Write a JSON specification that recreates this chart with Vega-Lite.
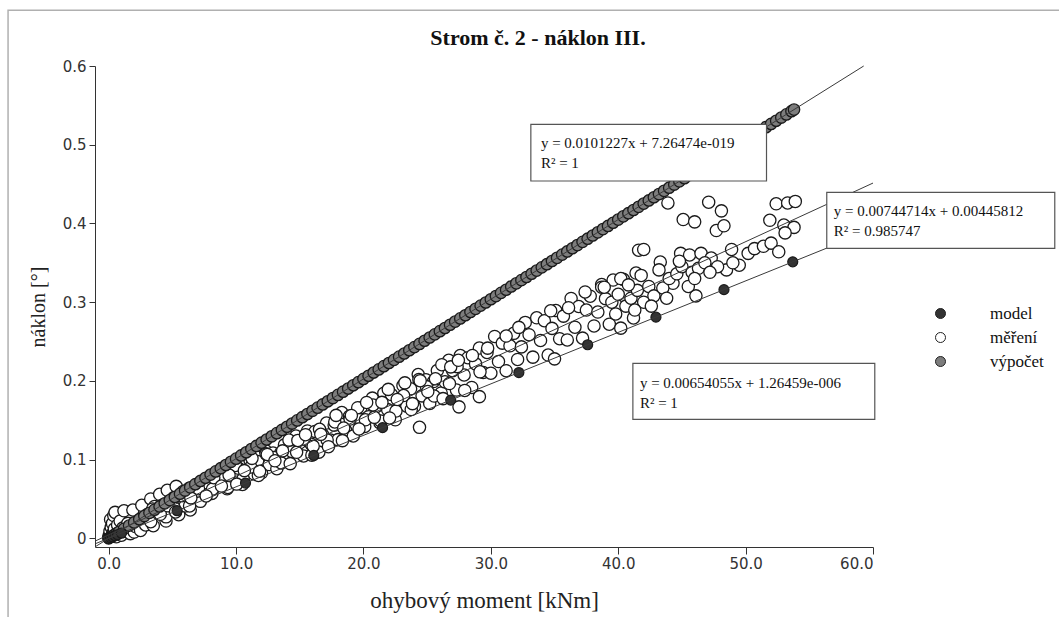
{
  "$schema": "https://vega.github.io/schema/vega-lite/v6.json",
  "width": 778,
  "height": 481,
  "autosize": {"type": "none"},
  "padding": {"left": 95, "top": 66, "right": 186, "bottom": 70},
  "background": "white",
  "title": {"text": "Strom č. 2 - náklon III.", "font": "Liberation Serif", "fontSize": 22, "fontWeight": "bold", "color": "#111", "anchor": "middle", "dx": 54, "offset": 0, "dy": 57, "baseline": "alphabetic"},
  "config": {
    "view": {"stroke": null},
    "style": {"guide-label": {"font": "Liberation Serif"}, "guide-title": {"font": "Liberation Serif"}},
    "axis": {"grid": false, "domainColor": "#333", "domainWidth": 1, "tickColor": "#333", "tickWidth": 1, "labelFont": "DejaVu Sans", "labelFontSize": 15, "labelColor": "#333", "titleFont": "Liberation Serif", "titleFontWeight": "normal", "titleColor": "#222"},
    "legend": {"labelFont": "Liberation Serif", "labelFontSize": 17, "labelColor": "#111"}
  },
  "datasets": {
    "frame": [{"x": -7.9, "x2": 76.5, "y": 0.6707, "y2": -0.15}],
    "vyp": [
      {"x":0,"y":0},{"x":0.2,"y":0.002},{"x":0.4,"y":0.004},{"x":0.6,"y":0.0061},{"x":0.8,"y":0.0081},{"x":1.2,"y":0.0121},{"x":1.6,"y":0.0162},{"x":2.0,"y":0.0202},{"x":2.4,"y":0.0243},{"x":2.8,"y":0.0283},{"x":3.2,"y":0.0324},{"x":3.6,"y":0.0364},{"x":4.0,"y":0.0405},{"x":4.4,"y":0.0445},{"x":4.8,"y":0.0486},{"x":5.2,"y":0.0526},{"x":5.6,"y":0.0567},{"x":6.0,"y":0.0607},{"x":6.4,"y":0.0648},{"x":6.8,"y":0.0688},{"x":7.2,"y":0.0729},{"x":7.6,"y":0.0769},{"x":8.0,"y":0.081},{"x":8.4,"y":0.085},{"x":8.8,"y":0.0891},{"x":9.2,"y":0.0931},{"x":9.6,"y":0.0972},{"x":10.0,"y":0.1012},{"x":10.4,"y":0.1053},{"x":10.8,"y":0.1093},{"x":11.2,"y":0.1134},{"x":11.6,"y":0.1174},{"x":12.0,"y":0.1215},{"x":12.4,"y":0.1255},{"x":12.8,"y":0.1296},{"x":13.2,"y":0.1336},{"x":13.6,"y":0.1377},{"x":14.0,"y":0.1417},{"x":14.4,"y":0.1458},{"x":14.8,"y":0.1498},{"x":15.2,"y":0.1539},{"x":15.6,"y":0.1579},{"x":16.0,"y":0.162},{"x":16.4,"y":0.166},{"x":16.8,"y":0.1701},{"x":17.2,"y":0.1741},{"x":17.6,"y":0.1782},{"x":18.0,"y":0.1822},{"x":18.4,"y":0.1863},{"x":18.8,"y":0.1903},{"x":19.2,"y":0.1944},{"x":19.6,"y":0.1984},{"x":20.0,"y":0.2025},{"x":20.4,"y":0.2065},{"x":20.8,"y":0.2106},{"x":21.2,"y":0.2146},{"x":21.6,"y":0.2187},{"x":22.0,"y":0.2227},{"x":22.4,"y":0.2267},{"x":22.8,"y":0.2308},{"x":23.2,"y":0.2348},{"x":23.6,"y":0.2389},{"x":24.0,"y":0.2429},{"x":24.4,"y":0.247},{"x":24.8,"y":0.251},{"x":25.2,"y":0.2551},{"x":25.6,"y":0.2591},{"x":26.0,"y":0.2632},{"x":26.4,"y":0.2672},{"x":26.8,"y":0.2713},{"x":27.2,"y":0.2753},{"x":27.6,"y":0.2794},{"x":28.0,"y":0.2834},{"x":28.4,"y":0.2875},{"x":28.8,"y":0.2915},{"x":29.2,"y":0.2956},{"x":29.6,"y":0.2996},{"x":30.0,"y":0.3037},{"x":30.4,"y":0.3077},{"x":30.8,"y":0.3118},{"x":31.2,"y":0.3158},{"x":31.6,"y":0.3199},{"x":32.0,"y":0.3239},{"x":32.4,"y":0.328},{"x":32.8,"y":0.332},{"x":33.2,"y":0.3361},{"x":33.6,"y":0.3401},{"x":34.0,"y":0.3442},{"x":34.4,"y":0.3482},{"x":34.8,"y":0.3523},{"x":35.2,"y":0.3563},{"x":35.6,"y":0.3604},{"x":36.0,"y":0.3644},{"x":36.4,"y":0.3685},{"x":36.8,"y":0.3725},{"x":37.2,"y":0.3766},{"x":37.6,"y":0.3806},{"x":38.0,"y":0.3847},{"x":38.4,"y":0.3887},{"x":38.8,"y":0.3928},{"x":39.2,"y":0.3968},{"x":39.6,"y":0.4009},{"x":40.0,"y":0.4049},{"x":40.4,"y":0.409},{"x":40.8,"y":0.413},{"x":41.2,"y":0.4171},{"x":41.6,"y":0.4211},{"x":42.0,"y":0.4252},{"x":42.4,"y":0.4292},{"x":42.8,"y":0.4333},{"x":43.2,"y":0.4373},{"x":43.6,"y":0.4414},{"x":44.0,"y":0.4454},{"x":44.4,"y":0.4494},{"x":44.8,"y":0.4535},{"x":45.2,"y":0.4575},{"x":45.6,"y":0.4616},{"x":46.0,"y":0.4656},{"x":46.4,"y":0.4697},{"x":46.8,"y":0.4737},{"x":47.2,"y":0.4778},{"x":47.6,"y":0.4818},{"x":48.0,"y":0.4859},{"x":48.4,"y":0.4899},{"x":48.8,"y":0.494},{"x":49.2,"y":0.498},{"x":49.6,"y":0.5021},{"x":50.0,"y":0.5061},{"x":50.4,"y":0.5102},{"x":50.8,"y":0.5142},{"x":51.2,"y":0.5183},{"x":51.6,"y":0.5223},{"x":52.0,"y":0.5264},{"x":52.4,"y":0.5304},{"x":52.8,"y":0.5345},{"x":53.2,"y":0.5385},{"x":53.6,"y":0.5426},{"x":53.8,"y":0.5446}
    ],
    "model": [
      {"x":0,"y":0},{"x":0.15,"y":0.001},{"x":0.3,"y":0.002},{"x":0.5,"y":0.0033},{"x":0.7,"y":0.0046},{"x":1.0,"y":0.0065},{"x":5.37,"y":0.0351},{"x":10.74,"y":0.0702},{"x":16.1,"y":0.1053},{"x":21.5,"y":0.1406},{"x":26.85,"y":0.1756},{"x":32.2,"y":0.2106},{"x":37.6,"y":0.2459},{"x":42.96,"y":0.281},{"x":48.3,"y":0.3159},{"x":53.7,"y":0.3512}
    ],
    "mer": [
      {"x":0,"y":0.001},{"x":0.05,"y":0.004},{"x":0.1,"y":0.009},{"x":0.15,"y":0.024},{"x":0.2,"y":0.014},{"x":0.25,"y":0.003},{"x":0.3,"y":0.019},{"x":0.35,"y":0.007},{"x":0.4,"y":0.029},{"x":0.45,"y":0.012},{"x":0.5,"y":0.033},{"x":0.6,"y":0.002},{"x":0.7,"y":0.017},{"x":0.8,"y":0.007},{"x":0.9,"y":0.022},{"x":1.0,"y":0.004},{"x":1.1,"y":0.013},{"x":1.2,"y":0.035},{"x":1.3,"y":0.009},{"x":1.5,"y":0.019},{"x":1.7,"y":0.006},{"x":1.9,"y":0.036},{"x":2.0,"y":0.008},{"x":2.1,"y":0.015},{"x":2.3,"y":0.021},{"x":2.5,"y":0.01},{"x":2.6,"y":0.042},{"x":2.7,"y":0.025},{"x":2.9,"y":0.017},{"x":3.3,"y":0.05},{"x":3.5,"y":0.016},{"x":4.0,"y":0.056},{"x":4.5,"y":0.022},{"x":4.6,"y":0.061},{"x":5.3,"y":0.066},{"x":5.5,"y":0.03},{"x":6.4,"y":0.036},
      {"x":3.0,"y":0.0298},{"x":3.3,"y":0.0211},{"x":3.6,"y":0.0405},{"x":3.9,"y":0.0315},{"x":4.2,"y":0.0421},{"x":4.5,"y":0.0273},{"x":4.8,"y":0.0414},{"x":5.1,"y":0.0514},{"x":5.4,"y":0.0391},{"x":5.7,"y":0.0516},{"x":6.0,"y":0.0411},{"x":6.3,"y":0.0632},{"x":6.6,"y":0.0501},{"x":6.9,"y":0.062},{"x":7.2,"y":0.047},{"x":7.5,"y":0.0629},{"x":7.8,"y":0.0715},{"x":8.1,"y":0.0571},{"x":8.4,"y":0.0658},{"x":8.7,"y":0.0818},{"x":9.0,"y":0.0756},{"x":9.3,"y":0.0629},{"x":9.6,"y":0.0884},{"x":9.9,"y":0.0755},{"x":10.2,"y":0.089},{"x":10.5,"y":0.0684},{"x":10.8,"y":0.0865},{"x":11.1,"y":0.099},{"x":11.4,"y":0.082},{"x":11.7,"y":0.0977},{"x":12.0,"y":0.0833},{"x":12.3,"y":0.1115},{"x":12.6,"y":0.0937},{"x":12.9,"y":0.1085},{"x":13.2,"y":0.0885},{"x":13.5,"y":0.1083},{"x":13.8,"y":0.1187},{"x":14.1,"y":0.0996},{"x":14.4,"y":0.1101},{"x":14.7,"y":0.13},{"x":15.0,"y":0.1214},{"x":15.3,"y":0.1047},{"x":15.6,"y":0.1364},{"x":15.9,"y":0.1195},{"x":16.2,"y":0.1358},{"x":16.5,"y":0.1095},{"x":16.8,"y":0.1315},{"x":17.1,"y":0.1465},{"x":17.4,"y":0.1249},{"x":17.7,"y":0.1438},{"x":18.0,"y":0.1254},{"x":18.3,"y":0.1598},{"x":18.6,"y":0.1373},{"x":18.9,"y":0.155},{"x":19.2,"y":0.13},{"x":19.5,"y":0.1537},{"x":19.8,"y":0.1659},{"x":20.1,"y":0.1421},{"x":20.4,"y":0.1545},{"x":20.7,"y":0.1781},{"x":21.0,"y":0.1672},{"x":21.3,"y":0.1466},{"x":21.6,"y":0.1843},{"x":21.9,"y":0.1635},{"x":22.2,"y":0.1827},{"x":22.5,"y":0.1506},{"x":22.8,"y":0.1766},{"x":23.1,"y":0.1941},{"x":23.4,"y":0.1678},{"x":23.7,"y":0.19},{"x":24.0,"y":0.1676},{"x":24.3,"y":0.2081},{"x":24.6,"y":0.181},{"x":24.9,"y":0.2015},{"x":25.2,"y":0.1714},{"x":25.5,"y":0.1992},{"x":25.8,"y":0.2132},{"x":26.1,"y":0.1847},{"x":26.4,"y":0.1988},{"x":26.7,"y":0.2262},{"x":27.0,"y":0.213},{"x":27.3,"y":0.1884},{"x":27.6,"y":0.2322},{"x":27.9,"y":0.2075},{"x":28.2,"y":0.2295},{"x":28.5,"y":0.1917},{"x":28.8,"y":0.2216},{"x":29.1,"y":0.2417},{"x":29.4,"y":0.2107},{"x":29.7,"y":0.2361},{"x":30.0,"y":0.2098},{"x":30.3,"y":0.2564},{"x":30.6,"y":0.2246},{"x":30.9,"y":0.248},{"x":31.2,"y":0.2129},{"x":31.5,"y":0.2446},{"x":31.8,"y":0.2604},{"x":32.1,"y":0.2272},{"x":32.4,"y":0.2432},{"x":32.7,"y":0.2743},{"x":33.0,"y":0.2587},{"x":33.3,"y":0.2302},{"x":33.6,"y":0.2802},{"x":33.9,"y":0.2514},{"x":34.2,"y":0.2764},{"x":34.5,"y":0.2328},{"x":34.8,"y":0.2667},{"x":35.1,"y":0.2893},{"x":35.4,"y":0.2536},{"x":35.7,"y":0.2823},{"x":36.0,"y":0.252},{"x":36.3,"y":0.3047},{"x":36.6,"y":0.2682},{"x":36.9,"y":0.2945},{"x":37.2,"y":0.2543},{"x":37.5,"y":0.29},{"x":37.8,"y":0.3076},{"x":38.1,"y":0.2698},{"x":38.4,"y":0.2875},{"x":38.7,"y":0.3224},{"x":39.0,"y":0.3045},{"x":39.3,"y":0.272},{"x":39.6,"y":0.3281},{"x":39.9,"y":0.2954},
      {"x":5.15,"y":0.0385},{"x":5.75,"y":0.0542},{"x":6.35,"y":0.0412},{"x":6.95,"y":0.06},{"x":7.55,"y":0.0707},{"x":8.15,"y":0.0626},{"x":8.75,"y":0.0764},{"x":9.35,"y":0.0647},{"x":9.95,"y":0.0926},{"x":10.55,"y":0.076},{"x":11.15,"y":0.0905},{"x":11.75,"y":0.0799},{"x":12.35,"y":0.1073},{"x":12.95,"y":0.1026},{"x":13.55,"y":0.0957},{"x":14.15,"y":0.1248},{"x":14.75,"y":0.1093},{"x":15.35,"y":0.1258},{"x":15.95,"y":0.1057},{"x":16.55,"y":0.1385},{"x":17.15,"y":0.125},{"x":17.75,"y":0.1479},{"x":18.35,"y":0.1241},{"x":18.95,"y":0.1515},{"x":19.55,"y":0.1659},{"x":20.15,"y":0.1506},{"x":20.75,"y":0.1694},{"x":21.35,"y":0.149},{"x":21.95,"y":0.1892},{"x":22.55,"y":0.1617},{"x":23.15,"y":0.1814},{"x":23.75,"y":0.1636},{"x":24.35,"y":0.2017},{"x":24.95,"y":0.1927},{"x":25.55,"y":0.1808},{"x":26.15,"y":0.2206},{"x":26.75,"y":0.1966},{"x":27.35,"y":0.2181},{"x":27.95,"y":0.1879},{"x":28.55,"y":0.2323},{"x":29.15,"y":0.2115},{"x":29.75,"y":0.2416},
      {"x":3.45,"y":0.0373},{"x":4.05,"y":0.0305},{"x":4.65,"y":0.0413},{"x":5.25,"y":0.0335},{"x":5.85,"y":0.0596},{"x":6.45,"y":0.0514},{"x":7.05,"y":0.0631},{"x":7.65,"y":0.0539},{"x":8.25,"y":0.077},{"x":8.85,"y":0.0664},{"x":9.45,"y":0.0804},{"x":10.05,"y":0.0689},{"x":10.65,"y":0.086},{"x":11.25,"y":0.1016},{"x":11.85,"y":0.0852},{"x":12.45,"y":0.1066},{"x":13.05,"y":0.0985},{"x":13.65,"y":0.1111},{"x":14.25,"y":0.0949},{"x":14.85,"y":0.1244},{"x":15.45,"y":0.1317},{"x":16.05,"y":0.1171},{"x":16.65,"y":0.1321},{"x":17.25,"y":0.1164},{"x":17.85,"y":0.1562},{"x":18.45,"y":0.1401},{"x":19.05,"y":0.1561},{"x":19.65,"y":0.139},{"x":20.25,"y":0.1726},{"x":20.85,"y":0.1537},{"x":21.45,"y":0.1727},{"x":22.05,"y":0.1529},{"x":22.65,"y":0.1764},{"x":23.25,"y":0.1975},{"x":23.85,"y":0.1711},{"x":24.45,"y":0.2003},{"x":25.05,"y":0.1865},{"x":25.65,"y":0.2026},{"x":26.25,"y":0.1775},{"x":26.85,"y":0.2178},{"x":27.45,"y":0.2262},
      {"x":24.4,"y":0.141},{"x":27.5,"y":0.167},{"x":29.1,"y":0.18},{"x":35.0,"y":0.228},{"x":40.2,"y":0.267},{"x":41.2,"y":0.28},{"x":40.4,"y":0.329},{"x":37.4,"y":0.313},{"x":38.7,"y":0.319},{"x":34.7,"y":0.289},{"x":36.1,"y":0.293},{"x":32.2,"y":0.268},{"x":31.2,"y":0.257},{"x":41.6,"y":0.366},{"x":41.4,"y":0.337},
      {"x":43.9,"y":0.426},{"x":47.1,"y":0.427},{"x":48.1,"y":0.416},{"x":45.1,"y":0.405},{"x":46.0,"y":0.402},{"x":47.7,"y":0.391},{"x":48.3,"y":0.397},{"x":52.4,"y":0.425},{"x":53.3,"y":0.426},{"x":53.9,"y":0.428},{"x":51.9,"y":0.404},{"x":53.0,"y":0.398},{"x":53.8,"y":0.395},{"x":53.1,"y":0.388},{"x":42.0,"y":0.367},{"x":43.3,"y":0.351},{"x":44.9,"y":0.362},{"x":45.6,"y":0.36},{"x":46.5,"y":0.362},{"x":47.3,"y":0.356},{"x":48.9,"y":0.367},{"x":50.2,"y":0.362},{"x":50.7,"y":0.368},{"x":51.4,"y":0.371},{"x":52.0,"y":0.375},{"x":52.6,"y":0.364},{"x":49.5,"y":0.347},{"x":48.5,"y":0.341},{"x":47.8,"y":0.345},{"x":46.1,"y":0.308},{"x":41.8,"y":0.334},{"x":43.2,"y":0.341},{"x":44.3,"y":0.324},{"x":45.5,"y":0.32},{"x":38.9,"y":0.319},{"x":40.2,"y":0.33},
      {"x":39.5,"y":0.3},{"x":40.0,"y":0.31},{"x":40.6,"y":0.295},{"x":41.0,"y":0.305},{"x":41.5,"y":0.315},{"x":42.0,"y":0.3},{"x":42.4,"y":0.32},{"x":42.8,"y":0.308},{"x":43.5,"y":0.318},{"x":44.0,"y":0.33},{"x":44.6,"y":0.336},{"x":45.0,"y":0.345},{"x":45.8,"y":0.338},{"x":46.3,"y":0.343},{"x":46.8,"y":0.35},{"x":47.2,"y":0.338},{"x":41.3,"y":0.29},{"x":42.6,"y":0.295},{"x":43.8,"y":0.305},{"x":39.8,"y":0.285},{"x":40.8,"y":0.322},{"x":44.8,"y":0.352},{"x":46.0,"y":0.33},{"x":49.0,"y":0.35}
    ],
    "lines": [
      {"s":"vyp","x":-1.0,"y":-0.0101},{"s":"vyp","x":59.27,"y":0.6},
      {"s":"mer","x":-1.0,"y":-0.003},{"s":"mer","x":60,"y":0.4513},
      {"s":"mod","x":-1.0,"y":-0.0065},{"s":"mod","x":60,"y":0.3924}
    ],
    "boxes": [
      {"x":33.14,"x2":51.64,"y":0.5259,"y2":0.4539},
      {"x":56.37,"x2":74.27,"y":0.4395,"y2":0.3684},
      {"x":41.15,"x2":60.14,"y":0.2223,"y2":0.1512}
    ],
    "notes": [
      {"x":33.93,"y":0.5018,"t":"y = 0.0101227x + 7.26474e-019"},
      {"x":33.93,"y":0.4764,"t":"R² = 1"},
      {"x":56.92,"y":0.4154,"t":"y = 0.00744714x + 0.00445812"},
      {"x":56.92,"y":0.39,"t":"R² = 0.985747"},
      {"x":41.7,"y":0.1969,"t":"y = 0.00654055x + 1.26459e-006"},
      {"x":41.7,"y":0.1715,"t":"R² = 1"}
    ]
  },
  "encoding": {
    "x": {"field": "x", "type": "quantitative", "scale": {"domain": [-1.075, 60], "nice": false, "zero": false},
      "axis": {"title": "ohybový moment [kNm]", "values": [0, 10, 20, 30, 40, 50, 60], "format": ".1f", "tickSize": 7, "labelPadding": 2, "labelFont": "DejaVu Sans", "titleFont": "Liberation Serif", "titleFontSize": 23, "titlePadding": 18}},
    "y": {"field": "y", "type": "quantitative", "scale": {"domain": [-0.011, 0.6], "nice": false, "zero": false},
      "axis": {"title": "náklon [°]", "values": [0, 0.1, 0.2, 0.3, 0.4, 0.5, 0.6], "format": ".1~f", "tickSize": 6, "labelPadding": 3, "labelFont": "DejaVu Sans", "titleFont": "Liberation Serif", "titleFontSize": 20, "titlePadding": 14}}
  },
  "layer": [
    {"data": {"name": "frame"}, "mark": {"type": "rect", "fill": null, "stroke": "#b0b0b0", "strokeWidth": 1.5, "clip": false},
      "encoding": {"x2": {"field": "x2"}, "y2": {"field": "y2"}}},
    {"data": {"name": "mer"}, "mark": {"type": "circle", "size": 150, "stroke": "#1a1a1a", "strokeWidth": 1.3, "opacity": 1},
      "encoding": {"fill": {"datum": "měření", "type": "nominal", "scale": {"domain": ["model", "měření", "výpočet"], "range": ["#333333", "#ffffff", "#7d7d7d"]},
        "legend": {"orient": "none", "legendX": 837, "legendY": 239, "padding": 0, "title": null, "symbolType": "circle", "symbolSize": 100, "symbolStrokeColor": "#222", "symbolStrokeWidth": 1, "labelFont": "Liberation Serif", "labelFontSize": 17, "labelColor": "#111", "labelOffset": 41, "rowPadding": 6}}}},
    {"data": {"name": "vyp"}, "mark": {"type": "circle", "size": 130, "stroke": "#1a1a1a", "strokeWidth": 1.3, "opacity": 1},
      "encoding": {"fill": {"datum": "výpočet", "type": "nominal"}}},
    {"data": {"name": "model"}, "mark": {"type": "circle", "size": 100, "stroke": "#1a1a1a", "strokeWidth": 1.2, "opacity": 1},
      "encoding": {"fill": {"datum": "model", "type": "nominal"}}},
    {"data": {"name": "lines"}, "mark": {"type": "line", "color": "#3a3a3a", "strokeWidth": 1},
      "encoding": {"detail": {"field": "s"}}},
    {"data": {"name": "boxes"}, "mark": {"type": "rect", "fill": "white", "stroke": "#555", "strokeWidth": 1.2, "clip": false},
      "encoding": {"x2": {"field": "x2"}, "y2": {"field": "y2"}}},
    {"data": {"name": "notes"}, "mark": {"type": "text", "align": "left", "baseline": "middle", "font": "Liberation Serif", "fontSize": 15, "color": "#111"},
      "encoding": {"text": {"field": "t"}}}
  ]
}
